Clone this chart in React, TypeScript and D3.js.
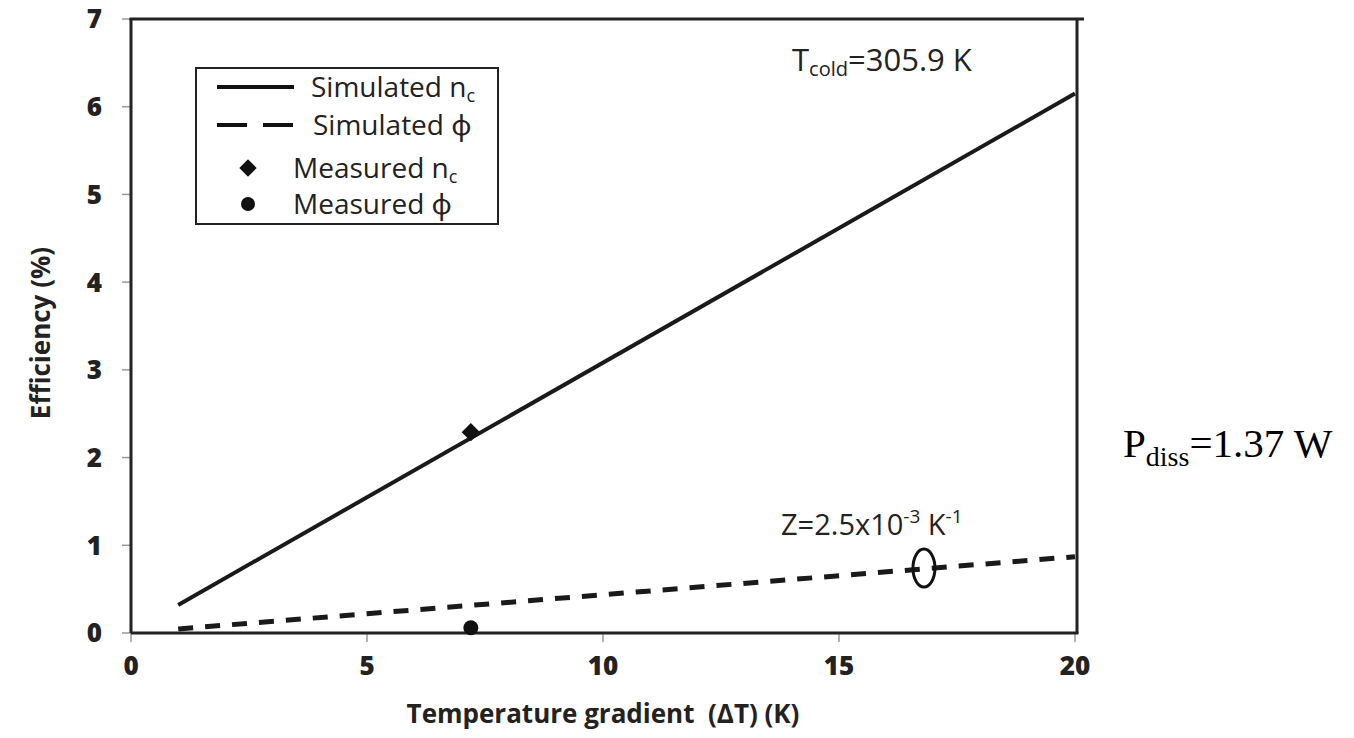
import React from "react";
import * as d3 from "d3";

const xTicks = [0, 5, 10, 15, 20];
const yTicks = [0, 1, 2, 3, 4, 5, 6, 7];
const simNcX = [1, 20];
const simNcY = [0.32, 6.15];
const simPhiX = [1, 20];
const simPhiY = [0.046, 0.87];
const measNcX = [7.2];
const measNcY = [2.29];
const measPhiX = [7.2];
const measPhiY = [0.06];
const markX = 16.8;
const markY = 0.74;

const W = 1354;
const H = 738;
const FONT = "'Open Sans', 'Noto Sans', sans-serif";

export default function App() {
  const x = d3.scaleLinear().domain([0, 20]).range([131, 1075]);
  const y = d3.scaleLinear().domain([0, 7]).range([633, 19]);
  const line = d3
    .line<[number, number]>()
    .x((d) => x(d[0]))
    .y((d) => y(d[1]));
  const nc = simNcX.map((v, i) => [v, simNcY[i]] as [number, number]);
  const phi = simPhiX.map((v, i) => [v, simPhiY[i]] as [number, number]);
  const diamond = d3.symbol().type(d3.symbolSquare).size(170)();
  const diamondL = d3.symbol().type(d3.symbolSquare).size(150)();

  const x0 = x(0), x1 = 1077, y0 = y(0), y1 = y(7);

  return (
    <svg
      width={W}
      height={H}
      style={{ position: "absolute", left: 0, top: 0, background: "#fff" }}
      fontFamily={FONT}
    >
      <rect x={0} y={0} width={W} height={H} fill="#fff" />
      {/* ticks */}
      {yTicks.map((t) => (
        <g key={"y" + t}>
          <line x1={x0 - 9} x2={x0} y1={y(t)} y2={y(t)} stroke="#999" strokeWidth={1.5} />
          <text x={102} y={y(t)} dy="0.36em" textAnchor="end" fontSize={26} fontWeight={800} fill="#222">
            {t}
          </text>
        </g>
      ))}
      {xTicks.map((t) => (
        <g key={"x" + t}>
          <line x1={x(t)} x2={x(t)} y1={y0} y2={y0 + 9} stroke="#999" strokeWidth={1.5} />
          <text x={x(t)} y={675} textAnchor="middle" fontSize={26} fontWeight={800} fill="#222">
            {t}
          </text>
        </g>
      ))}
      {/* frame */}
      <line x1={x0} x2={x0} y1={y1} y2={y0} stroke="#222" strokeWidth={3} />
      <line x1={x0} x2={x1 + 1.5} y1={y0} y2={y0} stroke="#222" strokeWidth={3} />
      <line x1={x1} x2={x1} y1={y1} y2={y0} stroke="#222" strokeWidth={3} />
      <line x1={x0 - 1.5} x2={1084} y1={y1} y2={y1} stroke="#222" strokeWidth={3} />

      {/* axis titles */}
      <text
        x={x(10)}
        y={723}
        textAnchor="middle"
        fontSize={26}
        fontWeight={700}
        fill="#222"
        style={{ whiteSpace: "pre" }}
      >
        {"Temperature gradient  (ΔT) (K)"}
      </text>
      <text
        transform={`translate(50, ${333}) rotate(-90)`}
        textAnchor="middle"
        fontSize={26}
        fontWeight={700}
        fill="#222"
      >
        Efficiency (%)
      </text>

      {/* series */}
      <path d={line(nc) || ""} fill="none" stroke="#1a1a1a" strokeWidth={4} />
      <path d={line(phi) || ""} fill="none" stroke="#1a1a1a" strokeWidth={5} strokeDasharray="15,12" />
      {measNcX.map((v, i) => (
        <path
          key={"d" + i}
          d={diamond || ""}
          transform={`translate(${x(v)},${y(measNcY[i])}) rotate(45)`}
          fill="#111"
        />
      ))}
      {measPhiX.map((v, i) => (
        <circle key={"c" + i} cx={x(v)} cy={y(measPhiY[i])} r={7.5} fill="#111" />
      ))}
      <ellipse cx={x(markX)} cy={y(markY)} rx={11} ry={19} fill="none" stroke="#111" strokeWidth={3} />

      {/* annotations */}
      <text x={792} y={71} fontSize={31} fill="#222">
        T<tspan fontSize={20} dy={5}>cold</tspan>
        <tspan dy={-5}>=305.9 K</tspan>
      </text>
      <text x={781} y={535} fontSize={29} fill="#222">
        Z=2.5x10<tspan fontSize={19} dy={-12}>-3</tspan>
        <tspan dy={12}> K</tspan>
        <tspan fontSize={19} dy={-12}>-1</tspan>
      </text>
      <text x={1123} y={457} fontSize={41} fontFamily="'Liberation Serif', 'Times New Roman', serif" fill="#000">
        P<tspan fontSize={28} dy={9}>diss</tspan>
        <tspan dy={-9}>=1.37 W</tspan>
      </text>

      {/* legend */}
      <rect x={196} y={68} width={302} height={156} fill="#fff" stroke="#222" strokeWidth={2} />
      <line x1={217} x2={294} y1={87} y2={87} stroke="#111" strokeWidth={4} />
      <text x={311} y={97} fontSize={28} fill="#222">
        Simulated n<tspan fontSize={18} dy={5}>c</tspan>
      </text>
      <line x1={217} x2={294} y1={125} y2={125} stroke="#111" strokeWidth={4} strokeDasharray="30,16" />
      <text x={313} y={135} fontSize={28} fill="#222">
        Simulated ϕ
      </text>
      <path d={diamondL || ""} transform="translate(248,168) rotate(45)" fill="#111" />
      <text x={293} y={178} fontSize={28} fill="#222">
        Measured n<tspan fontSize={18} dy={5}>c</tspan>
      </text>
      <circle cx={248} cy={204} r={7} fill="#111" />
      <text x={293} y={214} fontSize={28} fill="#222">
        Measured ϕ
      </text>
    </svg>
  );
}
